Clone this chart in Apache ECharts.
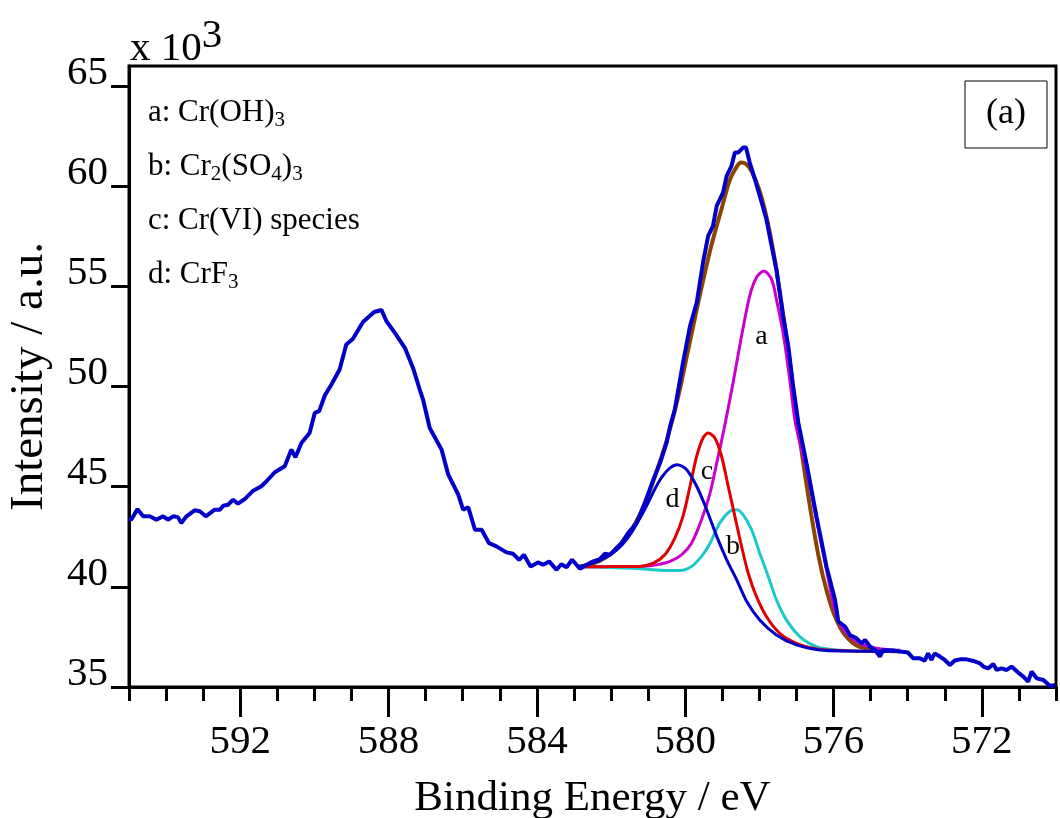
<!DOCTYPE html>
<html>
<head>
<meta charset="utf-8">
<script src="https://cdn.jsdelivr.net/npm/echarts@6/dist/echarts.min.js"></script>
<style>html,body{margin:0;padding:0;background:#fff}#c{width:1060px;height:818px}</style>
</head>
<body>
<div id="c"></div>
<script>
// Binding energy (eV) vs intensity (x10^3)
const rawSpectrum = [
[595.0,43.4],[594.94,43.35],[594.77,43.88],[594.62,43.52],[594.44,43.52],[594.26,43.35],[594.08,43.52],[593.95,43.35],[593.81,43.52],[593.68,43.48],[593.59,43.18],[593.45,43.52],[593.23,43.82],[593.09,43.77],[592.93,43.52],[592.69,43.85],[592.55,43.85],[592.46,44.05],[592.33,44.1],[592.19,44.35],[592.06,44.15],[591.88,44.38],[591.65,44.8],[591.43,45.02],[591.29,45.27],[591.07,45.72],[590.80,46.02],[590.62,46.85],[590.51,46.47],[590.35,47.18],[590.13,47.68],[589.99,48.68],[589.87,48.77],[589.72,49.55],[589.54,50.1],[589.32,50.85],[589.14,52.1],[588.96,52.38],[588.69,53.22],[588.39,53.72],[588.19,53.82],[588.06,53.27],[587.83,52.68],[587.56,51.93],[587.34,50.93],[587.16,49.85],[587.07,49.35],[586.89,47.93],[586.57,46.85],[586.39,45.6],[586.12,44.6],[585.99,43.85],[585.85,43.97],[585.67,42.85],[585.49,42.85],[585.29,42.18],[585.09,42.02],[584.82,41.72],[584.64,41.65],[584.48,41.35],[584.35,41.6],[584.17,41.02],[583.97,41.22],[583.83,41.1],[583.67,41.27],[583.47,40.85],[583.34,41.13],[583.20,40.98],[583.05,41.35],[582.84,40.9],[582.66,41.1],[582.48,41.27],[582.30,41.38],[582.17,41.65],[582.03,41.6],[581.90,41.85],[581.72,42.18],[581.54,42.68],[581.31,43.18],[581.09,44.18],[580.86,45.35],[580.68,46.18],[580.5,47.2],[580.41,48.0],[580.28,48.85],[580.06,51.18],[579.87,53.02],[579.69,54.18],[579.52,56.18],[579.38,57.52],[579.25,58.02],[579.15,59.02],[578.98,59.68],[578.88,60.52],[578.75,61.02],[578.66,61.68],[578.57,61.68],[578.53,61.6],[578.44,61.93],[578.36,61.93],[578.26,61.18],[578.12,60.35],[577.99,59.52],[577.81,58.35],[577.67,57.02],[577.54,55.85],[577.36,53.52],[577.22,52.02],[577.09,50.02],[576.95,48.2],[576.73,46.18],[576.46,43.52],[576.19,41.02],[575.96,39.35],[575.87,38.27],[575.69,38.02],[575.56,37.6],[575.38,37.43],[575.24,37.18],[575.15,37.35],[575.02,37.02],[574.88,36.85],[574.75,36.52],[574.66,36.85],[574.39,36.82],[574.21,36.77],[573.99,36.72],[573.85,36.43],[573.67,36.43],[573.54,36.32],[573.45,36.68],[573.36,36.35],[573.27,36.68],[573.13,36.52],[573.0,36.35],[572.86,36.1],[572.73,36.32],[572.59,36.38],[572.41,36.38],[572.23,36.3],[572.05,36.18],[571.96,36.02],[571.83,35.93],[571.69,36.15],[571.60,35.85],[571.47,35.93],[571.33,35.85],[571.20,36.02],[571.02,35.72],[570.88,35.52],[570.75,35.27],[570.66,35.77],[570.52,35.43],[570.34,35.35],[570.16,35.05],[570.02,35.1]
];
const envelopeFit = [
[582.9,41.0],[582.6,41.1],[582.3,41.3],[582.0,41.65],[581.7,42.2],[581.4,43.0],[581.1,44.1],[580.8,45.6],[580.5,47.3],[580.2,49.4],[579.9,52.0],[579.6,54.6],[579.3,57.0],[579.0,59.0],[578.8,60.3],[578.6,61.0],[578.5,61.18],[578.35,61.1],[578.2,60.7],[578.0,59.8],[577.8,58.4],[577.6,56.5],[577.4,54.1],[577.2,51.5],[577.0,48.6],[576.8,46.0],[576.6,43.6],[576.4,41.5],[576.2,39.9],[576.0,38.7],[575.8,37.9],[575.6,37.4],[575.4,37.1],[575.2,36.95],[574.9,36.85],[574.5,36.8],[574.2,36.78]
];
const compA = [
[582.9,41.0],[582.0,41.0],[581.4,41.0],[580.95,41.05],[580.7,41.12],[580.41,41.27],[580.1,41.6],[579.83,42.18],[579.56,43.35],[579.33,44.68],[579.15,46.18],[578.95,47.9],[578.71,50.18],[578.48,52.52],[578.26,54.52],[578.08,55.43],[577.88,55.77],[577.67,55.35],[577.54,54.35],[577.36,52.68],[577.18,50.35],[577.02,48.1],[576.73,45.85],[576.46,43.35],[576.19,40.85],[575.92,38.52],[575.65,37.68],[575.29,37.18],[574.84,36.93],[574.4,36.85],[574.2,36.83]
];
const compB = [
[582.9,41.0],[582.0,40.97],[581.4,40.93],[580.86,40.85],[580.5,40.82],[580.14,40.82],[579.83,41.02],[579.56,41.52],[579.33,42.18],[579.07,43.18],[578.8,43.77],[578.61,43.85],[578.44,43.6],[578.21,42.85],[577.99,41.68],[577.76,40.52],[577.54,39.35],[577.27,38.35],[576.91,37.52],[576.46,37.02],[575.92,36.85],[575.3,36.8],[574.2,36.78]
];
const compC = [
[582.9,41.0],[582.3,41.0],[581.76,41.02],[581.24,41.02],[580.86,41.18],[580.55,41.6],[580.28,42.43],[580.06,43.52],[579.87,45.02],[579.69,46.52],[579.52,47.43],[579.38,47.68],[579.20,47.43],[579.02,46.52],[578.84,45.02],[578.66,43.52],[578.48,42.02],[578.30,40.68],[578.08,39.52],[577.81,38.52],[577.45,37.68],[577.00,37.18],[576.55,36.93],[576.19,36.85],[575.5,36.8],[574.2,36.78]
];
const compD = [
[582.9,41.0],[582.6,41.12],[582.3,41.32],[582.0,41.62],[581.7,42.1],[581.45,42.7],[581.2,43.5],[581.0,44.2],[580.8,44.95],[580.6,45.55],[580.4,45.95],[580.22,46.1],[579.96,45.85],[579.69,45.02],[579.42,43.85],[579.15,42.52],[578.88,41.35],[578.61,40.35],[578.34,39.27],[577.99,38.35],[577.54,37.6],[577.0,37.1],[576.37,36.85],[575.65,36.8],[574.2,36.78]
];
const peakLabels = [[577.94,52.5,'a'],[578.71,42.02,'b'],[579.41,45.77,'c'],[580.34,44.35,'d']];
const xMajorTicks = [572,576,580,584,588,592];
const yTicks = [35,40,45,50,55,60,65];
const legendLines = [
  ['a: Cr(OH)', '3', ''],
  ['b: Cr', '2', '(SO', '4', ')', '3'],
  ['c: Cr(VI) species'],
  ['d: CrF', '3']
];

const FONT = "'Liberation Serif','Times New Roman',serif";
const chart = echarts.init(document.getElementById('c'), null, {renderer:'canvas'});

function legendText(parts){
  return parts.map((p,i)=> p==='' ? '' : (i%2===0 ? '{n|'+p+'}' : '{s|'+p+'}')).join('');
}
const legendY = [115,169,223,277];
const graphics = legendLines.map((parts,i)=>({
  type:'text', left:148, top:legendY[i]-18, silent:true,
  style:{text:legendText(parts), font:'31px '+FONT, fill:'#000',
    rich:{n:{fontSize:31, fontFamily:FONT, lineHeight:36, verticalAlign:'middle', fill:'#000'},
          s:{fontSize:21, fontFamily:FONT, lineHeight:36, verticalAlign:'bottom', fill:'#000'}}}
}));
graphics.push({type:'text', left:130, top:16, silent:true,
  style:{text:'{n|x 10}{p|3}', fill:'#000',
    rich:{n:{fontSize:41, fontFamily:FONT, lineHeight:54, verticalAlign:'bottom'},
          p:{fontSize:41, fontFamily:FONT, lineHeight:54, verticalAlign:'top'}}}});
graphics.push({type:'rect', shape:{x:965,y:81,width:82,height:67}, silent:true,
  style:{fill:'#fff', stroke:'#000', lineWidth:1}});
graphics.push({type:'text', x:1006, y:114, silent:true,
  style:{text:'(a)', font:'36px '+FONT, fill:'#000', align:'center', verticalAlign:'middle'}});

function lineSeries(name, data, color, width, smooth, z){
  return {name, type:'line', data, showSymbol:false, symbol:'none', smooth,
    lineStyle:{color, width}, itemStyle:{color}, z, clip:true, animation:false};
}

chart.setOption({
  animation:false,
  backgroundColor:'#fff',
  grid:{left:129, right:4, top:66, bottom:131, show:true, borderColor:'#000', borderWidth:3,
    containLabel:false, outerBoundsMode:'none'},
  xAxis:[{
    type:'value', min:570, max:595, inverse:true, position:'bottom',
    axisLine:{show:true, lineStyle:{color:'#000', width:3}},
    axisTick:{show:true, customValues:xMajorTicks, length:30, lineStyle:{color:'#000', width:3}},
    axisLabel:{show:true, customValues:xMajorTicks, margin:35, fontSize:41, fontFamily:FONT, color:'#000'},
    splitLine:{show:false},
    name:'Binding Energy / eV', nameLocation:'middle', nameGap:90,
    nameTextStyle:{fontSize:43, fontFamily:FONT, color:'#000'}
  },{
    type:'value', min:570, max:595, interval:1, inverse:true, position:'bottom', offset:0,
    axisLine:{show:false},
    axisTick:{show:true, length:14, lineStyle:{color:'#000', width:3}},
    axisLabel:{show:false}, splitLine:{show:false}
  }],
  yAxis:[{
    type:'value', min:35, max:66,
    axisLine:{show:true, lineStyle:{color:'#000', width:3}},
    axisTick:{show:true, customValues:yTicks, length:18, lineStyle:{color:'#000', width:3}},
    axisLabel:{show:true, customValues:yTicks, margin:21, fontSize:41, fontFamily:FONT, color:'#000',
      verticalAlign:'bottom', lineHeight:26},
    splitLine:{show:false},
    name:'Intensity / a.u.', nameLocation:'middle', nameGap:76,
    nameTextStyle:{fontSize:47, fontFamily:FONT, color:'#000'}
  }],
  series:[
    lineSeries('fit', envelopeFit, '#8B4500', 4, 0.3, 2),
    lineSeries('a', compA, '#CC00CC', 3, 0.3, 3),
    lineSeries('b', compB, '#1CC8C8', 3, 0.3, 3),
    lineSeries('c', compC, '#E00000', 3, 0.3, 4),
    lineSeries('d', compD, '#0000C8', 3, 0.3, 5),
    lineSeries('raw', rawSpectrum, '#0000C8', 4, false, 6),
    {type:'scatter', data:peakLabels, symbolSize:0, z:7, animation:false, silent:true,
     label:{show:true, position:'inside', formatter:p=>p.value[2], fontSize:28, fontFamily:FONT,
       color:'#000', textBorderWidth:0, opacity:1}}
  ],
  graphic:graphics
});
</script>
</body>
</html>
